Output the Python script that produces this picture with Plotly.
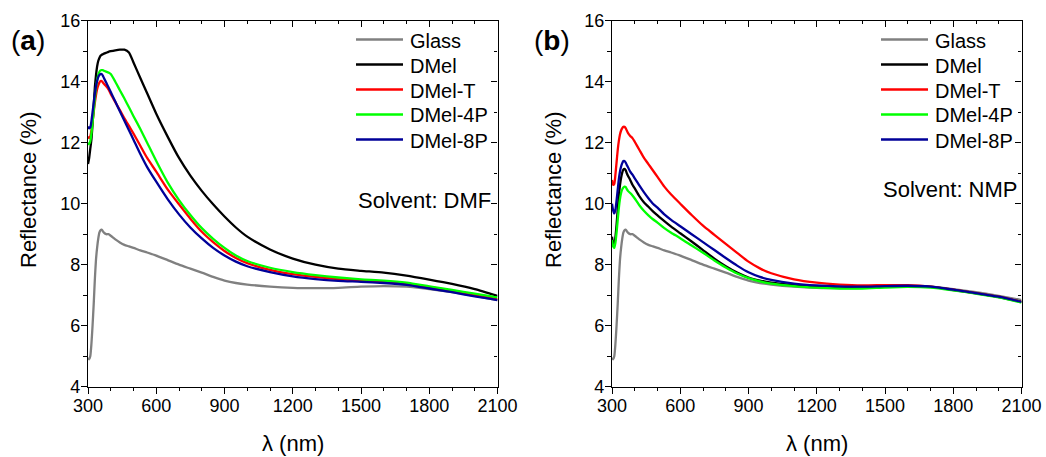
import plotly.graph_objects as go

# ---------------- data ----------------
wavelength = [300, 305, 310, 315, 320, 325, 330, 335, 340, 345, 350, 355, 360, 365, 370,
              380, 390, 400, 420, 440, 460, 480, 500, 530, 560, 600, 650, 700, 750, 800,
              850, 900, 950, 1000, 1100, 1200, 1300, 1400, 1500, 1600, 1700, 1800, 1900,
              2000, 2100]

glass = [4.95, 4.9, 5.0, 5.4, 6.0, 6.7, 7.5, 8.15, 8.55, 8.85, 9.05, 9.13, 9.15, 9.1, 9.05,
         9.0, 9.0, 8.95, 8.83, 8.73, 8.65, 8.6, 8.55, 8.47, 8.4, 8.3, 8.15, 8.0, 7.87, 7.74,
         7.6, 7.48, 7.4, 7.35, 7.28, 7.24, 7.23, 7.24, 7.28, 7.3, 7.28, 7.2, 7.1, 6.98, 6.84]

# Solvent: DMF (panel a)
dmf_dmel = [11.3, 11.5, 11.8, 12.1, 12.6, 13.2, 13.8, 14.2, 14.5, 14.68, 14.78, 14.85, 14.88, 14.9, 14.92,
            14.95, 14.98, 15.0, 15.03, 15.05, 15.05, 14.96, 14.63, 14.12, 13.62, 12.95, 12.2, 11.5, 10.92, 10.42,
            9.98, 9.58, 9.22, 8.92, 8.5, 8.2, 8.0, 7.87, 7.8, 7.74, 7.64, 7.51, 7.37, 7.2, 6.98]
dmf_dmel_t = [12.2, 12.15, 12.2, 12.4, 12.7, 13.0, 13.3, 13.55, 13.75, 13.88, 13.97, 14.02, 14.02, 13.98, 13.93,
              13.85, 13.75, 13.6, 13.33, 13.07, 12.8, 12.55, 12.3, 11.9, 11.5, 11.05, 10.47, 9.98, 9.51, 9.08,
              8.74, 8.45, 8.22, 8.05, 7.83, 7.69, 7.6, 7.53, 7.48, 7.45, 7.38, 7.27, 7.14, 7.0, 6.87]
dmf_dmel_4p = [12.0, 11.95, 12.05, 12.3, 12.65, 13.05, 13.45, 13.8, 14.05, 14.22, 14.32, 14.37, 14.38, 14.38, 14.36,
               14.33, 14.3, 14.25, 14.0, 13.72, 13.45, 13.16, 12.87, 12.45, 12.0, 11.4, 10.7, 10.12, 9.63, 9.2,
               8.85, 8.55, 8.3, 8.12, 7.9, 7.76, 7.66, 7.58, 7.52, 7.48, 7.41, 7.29, 7.17, 7.05, 6.93]
dmf_dmel_8p = [12.53, 12.47, 12.5, 12.7, 13.0, 13.3, 13.6, 13.85, 14.02, 14.15, 14.22, 14.25, 14.25, 14.2, 14.12,
               13.97, 13.82, 13.66, 13.35, 13.03, 12.72, 12.41, 12.1, 11.63, 11.2, 10.72, 10.15, 9.65, 9.22, 8.86,
               8.55, 8.3, 8.1, 7.95, 7.76, 7.62, 7.53, 7.47, 7.44, 7.4, 7.34, 7.22, 7.1, 6.96, 6.84]

# Solvent: NMP (panel b)
nmp_dmel = [8.92, 8.72, 8.68, 8.9, 9.3, 9.8, 10.25, 10.6, 10.85, 11.02, 11.12, 11.14, 11.1, 11.0, 10.92,
            10.78, 10.62, 10.5, 10.25, 10.05, 9.9, 9.75, 9.62, 9.43, 9.25, 9.03, 8.76, 8.48, 8.2, 7.95,
            7.74, 7.58, 7.48, 7.41, 7.33, 7.28, 7.26, 7.26, 7.29, 7.3, 7.27, 7.17, 7.06, 6.94, 6.78]
nmp_dmel_t = [10.78, 10.62, 10.65, 10.95, 11.35, 11.75, 12.05, 12.27, 12.4, 12.48, 12.52, 12.52, 12.48, 12.4, 12.32,
              12.22, 12.15, 12.03, 11.77, 11.51, 11.3, 11.09, 10.88, 10.56, 10.3, 10.0, 9.63, 9.28, 8.98, 8.68,
              8.39, 8.1, 7.88, 7.72, 7.52, 7.41, 7.35, 7.32, 7.33, 7.33, 7.28, 7.18, 7.07, 6.95, 6.78]
nmp_dmel_4p = [8.81, 8.6, 8.55, 8.72, 9.05, 9.45, 9.85, 10.15, 10.35, 10.47, 10.53, 10.56, 10.55, 10.48, 10.42,
               10.35, 10.27, 10.17, 9.95, 9.77, 9.62, 9.49, 9.38, 9.2, 9.05, 8.87, 8.63, 8.39, 8.14, 7.91,
               7.71, 7.56, 7.45, 7.38, 7.3, 7.25, 7.22, 7.22, 7.25, 7.27, 7.25, 7.16, 7.05, 6.93, 6.76]
nmp_dmel_8p = [10.0, 9.78, 9.68, 9.8, 10.1, 10.45, 10.8, 11.05, 11.22, 11.33, 11.4, 11.4, 11.35, 11.27, 11.2,
               11.05, 10.95, 10.83, 10.6, 10.38, 10.18, 10.0, 9.87, 9.65, 9.47, 9.26, 9.0, 8.74, 8.48, 8.22,
               7.97, 7.75, 7.6, 7.5, 7.38, 7.32, 7.29, 7.28, 7.3, 7.31, 7.28, 7.18, 7.07, 6.95, 6.78]

series_names = ["Glass", "DMel", "DMel-T", "DMel-4P", "DMel-8P"]
series_colors = ["#808080", "#000000", "#FF0000", "#00FF00", "#000099"]
x_ticks = [300, 600, 900, 1200, 1500, 1800, 2100]
y_ticks = [4, 6, 8, 10, 12, 14, 16]
panel_labels = ["a", "b"]
solvent_labels = ["Solvent: DMF", "Solvent: NMP"]

panels = [
    [glass, dmf_dmel, dmf_dmel_t, dmf_dmel_4p, dmf_dmel_8p],
    [glass, nmp_dmel, nmp_dmel_t, nmp_dmel_4p, nmp_dmel_8p],
]

# ---------------- layout geometry ----------------
W, H = 1046, 457
FONT = "Arial, Liberation Sans, sans-serif"


def px(x):
    return x / W


def py(y):
    return 1 - y / H


x_domains = [[px(88), px(497.5)], [px(612), px(1021.5)]]
y_domain = [py(386.7), py(20.7)]
xr = [300, 2100]
yr = [4, 16]

fig = go.Figure()

for p, data in enumerate(panels):
    xa = "x" if p == 0 else "x2"
    ya = "y" if p == 0 else "y2"
    for name, color, vals in zip(series_names, series_colors, data):
        fig.add_trace(go.Scatter(
            x=wavelength, y=vals, mode="lines", name=name,
            line=dict(color=color, width=2.3, shape="spline", smoothing=0.6),
            xaxis=xa, yaxis=ya, showlegend=False,
        ))
    # empty traces to host the mirrored (inside-tick) top/right axes
    fig.add_trace(go.Scatter(x=[], y=[], xaxis="x3" if p == 0 else "x4",
                             yaxis="y3" if p == 0 else "y4",
                             showlegend=False, hoverinfo="skip"))

axis_common = dict(showgrid=False, zeroline=False, showline=True, linecolor="black",
                   linewidth=1.3, tickcolor="black", tickwidth=1.3, automargin=False,
                   tickfont=dict(family=FONT, size=18, color="black"))

x_minor_vals = list(range(300, 2101, 100))
y_minor_vals = list(range(4, 17))


def x_main(domain, anchor):
    return dict(axis_common, domain=domain, anchor=anchor, range=xr, tickmode="array",
                tickvals=x_ticks, ticks="outside", ticklen=6, ticklabelstandoff=-3,
                minor=dict(ticks="outside", ticklen=3.5, tickvals=x_minor_vals,
                           tickcolor="black", tickwidth=1.3))


def y_main(anchor):
    return dict(axis_common, domain=y_domain, anchor=anchor, range=yr, tickmode="array",
                tickvals=y_ticks, ticks="outside", ticklen=6, ticklabelstandoff=-3,
                minor=dict(ticks="outside", ticklen=3.5, tickvals=y_minor_vals,
                           tickcolor="black", tickwidth=1.3))


def x_mirror(over, anchor):
    return dict(axis_common, overlaying=over, anchor=anchor, side="top", range=xr,
                tickmode="array", tickvals=x_ticks, ticks="inside", ticklen=6,
                showticklabels=False,
                minor=dict(ticks="inside", ticklen=3.5, tickvals=x_minor_vals,
                           tickcolor="black", tickwidth=1.3))


def y_mirror(over, anchor):
    return dict(axis_common, overlaying=over, anchor=anchor, side="right", range=yr,
                tickmode="array", tickvals=y_ticks, ticks="inside", ticklen=6,
                showticklabels=False,
                minor=dict(ticks="inside", ticklen=3.5, tickvals=y_minor_vals,
                           tickcolor="black", tickwidth=1.3))


annotations = []
shapes = []
legend_rows = [39.5, 64.5, 89.5, 114.5, 139.5]
legend_line_x = [(356, 403), (881, 928)]
legend_text_x = [408, 933]
solvent_pos = [(356, 200), (881, 190)]
panel_label_x = [9, 532]
ytitle_x = [29, 554]
xtitle_cx = [292.5, 816.5]

for p in range(2):
    for i, (name, color) in enumerate(zip(series_names, series_colors)):
        x0, x1 = legend_line_x[p]
        shapes.append(dict(type="line", xref="paper", yref="paper",
                           x0=px(x0), x1=px(x1), y0=py(legend_rows[i]), y1=py(legend_rows[i]),
                           line=dict(color=color, width=2.3)))
        annotations.append(dict(text=name, xref="paper", yref="paper",
                                x=px(legend_text_x[p]), y=py(legend_rows[i] + 1),
                                xanchor="left", yanchor="middle", showarrow=False,
                                font=dict(family=FONT, size=20, color="black")))
    sx, sy = solvent_pos[p]
    annotations.append(dict(text=solvent_labels[p], xref="paper", yref="paper",
                            x=px(sx), y=py(sy), xanchor="left", yanchor="middle",
                            showarrow=False, font=dict(family=FONT, size=22, color="black")))
    annotations.append(dict(text="(<b>%s</b>)" % panel_labels[p], xref="paper", yref="paper",
                            x=px(panel_label_x[p]), y=py(41), xanchor="left", yanchor="middle",
                            showarrow=False, font=dict(family=FONT, size=28, color="black")))
    annotations.append(dict(text="Reflectance (%)", xref="paper", yref="paper",
                            x=px(ytitle_x[p]), y=py(190), xanchor="center", yanchor="middle",
                            textangle=-90, showarrow=False,
                            font=dict(family=FONT, size=22, color="black")))
    annotations.append(dict(text="λ (nm)", xref="paper", yref="paper",
                            x=px(xtitle_cx[p]), y=py(443), xanchor="center", yanchor="middle",
                            showarrow=False, font=dict(family=FONT, size=22, color="black")))

fig.update_layout(
    width=W, height=H,
    margin=dict(l=0, r=0, t=0, b=0, pad=0, autoexpand=False),
    paper_bgcolor="white", plot_bgcolor="white",
    showlegend=False,
    xaxis=x_main(x_domains[0], "y"),
    yaxis=y_main("x"),
    xaxis2=x_main(x_domains[1], "y2"),
    yaxis2=y_main("x2"),
    xaxis3=x_mirror("x", "y"),
    yaxis3=y_mirror("y", "x"),
    xaxis4=x_mirror("x2", "y2"),
    yaxis4=y_mirror("y2", "x2"),
    annotations=annotations,
    shapes=shapes,
)

fig.write_html("out.html")
